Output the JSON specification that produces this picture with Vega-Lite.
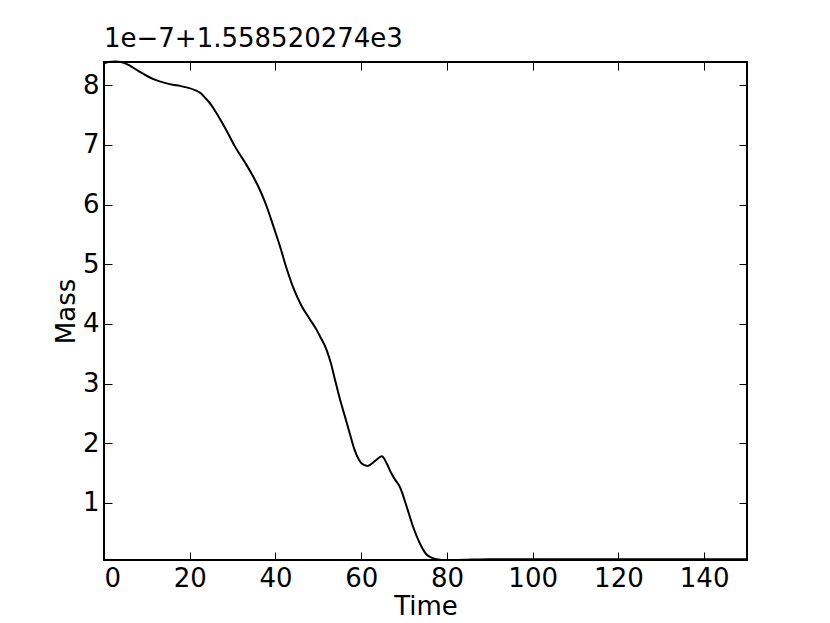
{
  "$schema": "https://vega.github.io/schema/vega-lite/v6.json",
  "width": 643,
  "height": 498,
  "autosize": "none",
  "padding": {"left": 104, "top": 62, "right": 83, "bottom": 63},
  "background": "white",
  "title": {
    "text": "1e−7+1.558520274e3",
    "anchor": "start",
    "frame": "group",
    "fontSize": 26,
    "font": "DejaVu Sans",
    "fontWeight": "normal",
    "color": "black",
    "offset": 5
  },
  "config": {
    "view": {"stroke": "black", "strokeWidth": 2},
    "axis": {
      "domain": false,
      "grid": false,
      "labelFont": "DejaVu Sans",
      "labelFontSize": 26,
      "labelColor": "black",
      "titleFont": "DejaVu Sans",
      "titleFontSize": 26,
      "titleFontWeight": "normal",
      "titleColor": "black",
      "tickColor": "black",
      "tickWidth": 1,
      "tickSize": -8
    }
  },
  "data": {
    "values": [
      {"t": 0, "m": 8.37},
      {"t": 1, "m": 8.39},
      {"t": 2.6, "m": 8.40},
      {"t": 4, "m": 8.39},
      {"t": 6, "m": 8.33},
      {"t": 8, "m": 8.24},
      {"t": 10.7, "m": 8.13},
      {"t": 12, "m": 8.09},
      {"t": 14.2, "m": 8.04},
      {"t": 16, "m": 8.01},
      {"t": 17.7, "m": 7.99},
      {"t": 19.5, "m": 7.96},
      {"t": 21.2, "m": 7.92},
      {"t": 22.5, "m": 7.87},
      {"t": 23.6, "m": 7.79},
      {"t": 25, "m": 7.67},
      {"t": 26, "m": 7.56},
      {"t": 27.5, "m": 7.38},
      {"t": 29.4, "m": 7.13},
      {"t": 30.5, "m": 6.98},
      {"t": 31.7, "m": 6.84},
      {"t": 33.2, "m": 6.67},
      {"t": 34.8, "m": 6.47},
      {"t": 36.4, "m": 6.24},
      {"t": 38.0, "m": 5.96},
      {"t": 39.5, "m": 5.64},
      {"t": 41.1, "m": 5.29},
      {"t": 42.6, "m": 4.93},
      {"t": 44.2, "m": 4.60},
      {"t": 46.1, "m": 4.30},
      {"t": 48.1, "m": 4.07},
      {"t": 49.6, "m": 3.90},
      {"t": 50.4, "m": 3.79},
      {"t": 51.9, "m": 3.57},
      {"t": 52.9, "m": 3.35},
      {"t": 53.9, "m": 3.06},
      {"t": 55, "m": 2.75},
      {"t": 56.2, "m": 2.45},
      {"t": 57.5, "m": 2.12},
      {"t": 58.5, "m": 1.88},
      {"t": 59.5, "m": 1.72},
      {"t": 60.5, "m": 1.64},
      {"t": 61.5, "m": 1.62},
      {"t": 62.5, "m": 1.66},
      {"t": 63.5, "m": 1.72},
      {"t": 64.8, "m": 1.78},
      {"t": 65.9, "m": 1.67},
      {"t": 67, "m": 1.50},
      {"t": 67.9, "m": 1.39},
      {"t": 69.0, "m": 1.27},
      {"t": 70.6, "m": 0.94},
      {"t": 72.1, "m": 0.60},
      {"t": 73.7, "m": 0.32},
      {"t": 75.3, "m": 0.13},
      {"t": 76.5, "m": 0.08},
      {"t": 77.6, "m": 0.055},
      {"t": 79, "m": 0.045},
      {"t": 82, "m": 0.045},
      {"t": 90, "m": 0.055},
      {"t": 100, "m": 0.055},
      {"t": 120, "m": 0.055},
      {"t": 150, "m": 0.055}
    ]
  },
  "layer": [
    {
      "mark": {"type": "line", "color": "black", "strokeWidth": 2, "interpolate": "monotone"},
      "encoding": {
        "x": {
          "field": "t", "type": "quantitative",
          "scale": {"domain": [0, 150], "nice": false, "zero": false},
          "axis": {"orient": "bottom", "title": "Time", "values": [0, 20, 40, 60, 80, 100, 120, 140], "labelPadding": 13, "titlePadding": 2}
        },
        "y": {
          "field": "m", "type": "quantitative",
          "scale": {"domain": [0.043, 8.39], "nice": false, "zero": false},
          "axis": {"orient": "left", "title": "Mass", "values": [1, 2, 3, 4, 5, 6, 7, 8], "labelPadding": 13, "titlePadding": 3}
        }
      }
    },
    {
      "mark": {"type": "line", "opacity": 0},
      "encoding": {
        "x": {
          "field": "t", "type": "quantitative",
          "axis": {"orient": "top", "title": null, "labels": false, "values": [0, 20, 40, 60, 80, 100, 120, 140]}
        },
        "y": {
          "field": "m", "type": "quantitative",
          "axis": {"orient": "right", "title": null, "labels": false, "values": [1, 2, 3, 4, 5, 6, 7, 8]}
        }
      }
    }
  ],
  "resolve": {"axis": {"x": "independent", "y": "independent"}}
}
